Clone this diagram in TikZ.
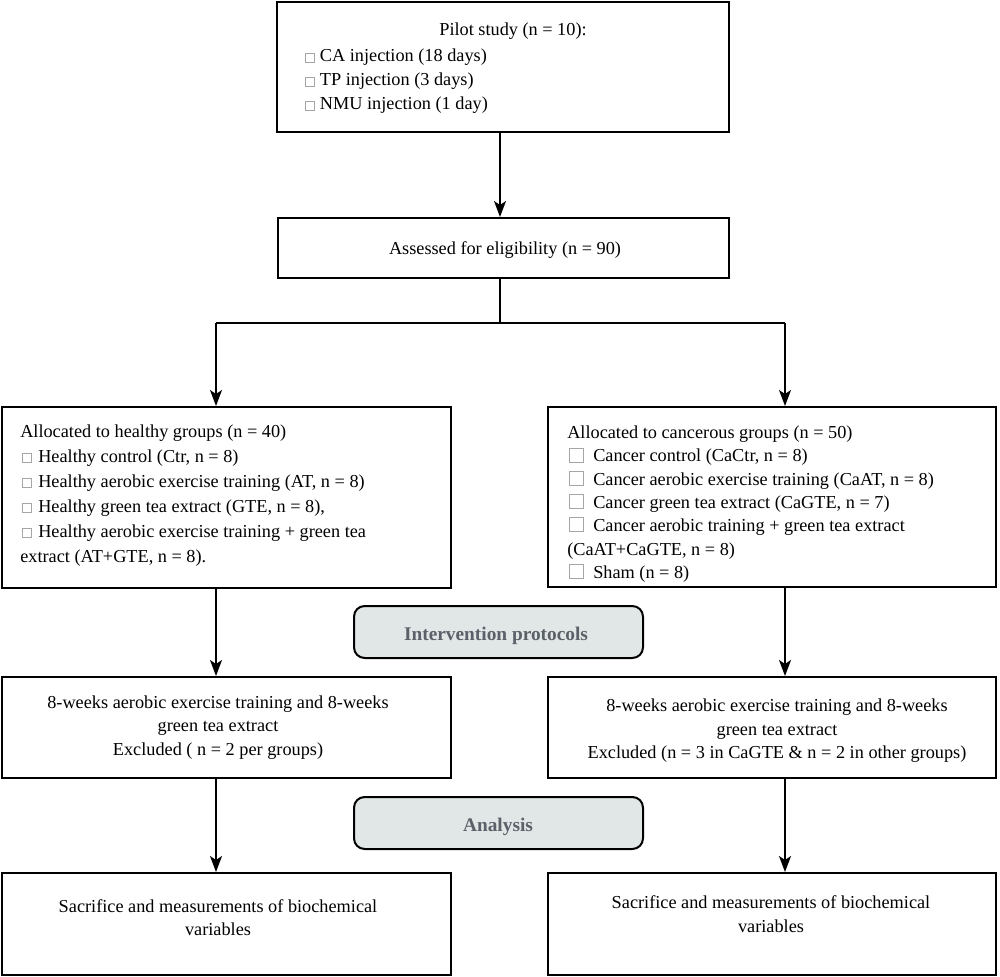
\documentclass[tikz,border=0pt]{standalone}
\usepackage{fontspec}
\setmainfont{Liberation Serif}
\usetikzlibrary{arrows.meta}
\definecolor{pillfill}{HTML}{E1E6E6}
\definecolor{pilltext}{HTML}{5B6169}
\newcommand{\cbx}[1]{{\setlength{\fboxsep}{0pt}\setlength{\fboxrule}{0.5pt}\fcolorbox{gray!70}{white}{\rule{0pt}{#1}\rule{#1}{0pt}}}}
\begin{document}
\begin{tikzpicture}[x=0.75pt,y=-0.75pt,
  box/.style={draw, line width=1.5pt, inner sep=0pt},
  pill/.style={draw, line width=1.5pt, fill=pillfill, rounded corners=8pt, inner sep=0pt, minimum width=216.75pt, minimum height=39pt},
  lbl/.style={inner sep=0pt, font=\fontsize{13.7}{16}\selectfont},
  plbl/.style={inner sep=0pt, font=\fontsize{14.5}{17}\selectfont\bfseries, text=pilltext},
  arr/.style={line width=1.1pt, -{Stealth[length=12pt,width=9pt,inset=3pt]}},
  ln/.style={line width=1.1pt}]
\useasboundingbox (0,0) rectangle (1000,977);
% boxes
\node[box, minimum width=339pt, minimum height=97.5pt] (pilot) at (503,67) {};
\node[box, minimum width=338.25pt, minimum height=45pt] (assess) at (503.5,248) {};
\node[box, minimum width=336.75pt, minimum height=135.75pt] (L1) at (226.5,497.5) {};
\node[box, minimum width=336pt, minimum height=135pt] (R1) at (772,497) {};
\node[pill] (int) at (498.5,632) {};
\node[box, minimum width=336.75pt, minimum height=75.75pt] (L2) at (226.5,727.5) {};
\node[box, minimum width=336pt, minimum height=75.75pt] (R2) at (772,727.5) {};
\node[pill] (ana) at (498.5,823) {};
\node[box, minimum width=336.75pt, minimum height=76.5pt] (L3) at (226.5,924) {};
\node[box, minimum width=336pt, minimum height=76.5pt] (R3) at (772,924) {};
% texts
\node[lbl, anchor=base] (p0) at (513,36) {Pilot study (n = 10):};
\node[lbl, anchor=base west] (p1) at (305,62) {\cbx{6pt}\hspace{4pt}CA injection (18 days)};
\node[lbl, anchor=base west] (p2) at (305,86) {\cbx{6pt}\hspace{4pt}TP injection (3 days)};
\node[lbl, anchor=base west] (p3) at (305,110) {\cbx{6pt}\hspace{4pt}NMU injection (1 day)};
\node[lbl, anchor=base] (a0) at (505,254) {Assessed for eligibility (n = 90)};
\node[lbl, anchor=base west] (l0) at (20,437) {Allocated to healthy groups (n = 40)};
\node[lbl, anchor=base west] (l1) at (22,462) {\cbx{6pt}\hspace{5pt}Healthy control (Ctr, n = 8)};
\node[lbl, anchor=base west] (l2) at (22,487) {\cbx{6pt}\hspace{5pt}Healthy aerobic exercise training (AT, n = 8)};
\node[lbl, anchor=base west] (l3) at (22,512) {\cbx{6pt}\hspace{5pt}Healthy green tea extract (GTE, n = 8),};
\node[lbl, anchor=base west] (l4) at (22,537) {\cbx{6pt}\hspace{5pt}Healthy aerobic exercise training + green tea};
\node[lbl, anchor=base west] (l5) at (20,562) {extract (AT+GTE, n = 8).};
\node[lbl, anchor=base west] (r0) at (567,438) {Allocated to cancerous groups (n = 50)};
\node[lbl, anchor=base west] (r1) at (569,461.5) {\cbx{10pt}\hspace{7pt}Cancer control (CaCtr, n = 8)};
\node[lbl, anchor=base west] (r2) at (569,485) {\cbx{10pt}\hspace{7pt}Cancer aerobic exercise training (CaAT, n = 8)};
\node[lbl, anchor=base west] (r3) at (569,508) {\cbx{10pt}\hspace{7pt}Cancer green tea extract (CaGTE, n = 7)};
\node[lbl, anchor=base west] (r4) at (569,531) {\cbx{10pt}\hspace{7pt}Cancer aerobic training + green tea extract};
\node[lbl, anchor=base west] (r5) at (567,555) {(CaAT+CaGTE, n = 8)};
\node[lbl, anchor=base west] (r6) at (569,578) {\cbx{10pt}\hspace{7pt}Sham (n = 8)};
\node[plbl, anchor=base] (it) at (496,640) {Intervention protocols};
\node[plbl, anchor=base] (at) at (498,831) {Analysis};
\node[lbl, anchor=base] (e1) at (218,708) {8-weeks aerobic exercise training and 8-weeks};
\node[lbl, anchor=base] (e2) at (218,731) {green tea extract};
\node[lbl, anchor=base] (e3) at (218,755) {Excluded ( n = 2 per groups)};
\node[lbl, anchor=base] (f1) at (777,711) {8-weeks aerobic exercise training and 8-weeks};
\node[lbl, anchor=base] (f2) at (777,735) {green tea extract};
\node[lbl, anchor=base] (f3) at (777,758) {Excluded (n = 3 in CaGTE \& n = 2 in other groups)};
\node[lbl, anchor=base] (s1) at (218,912) {Sacrifice and measurements of biochemical};
\node[lbl, anchor=base] (s2) at (218,935) {variables};
\node[lbl, anchor=base] (t1) at (771,908) {Sacrifice and measurements of biochemical};
\node[lbl, anchor=base] (t2) at (771,932) {variables};
% connectors
\coordinate (sp) at (500,323);
\coordinate (jl) at (216,323);
\coordinate (jr) at (785,323);
\draw[arr] (pilot.south -| sp) -- (assess.north -| sp);
\draw[ln] (assess.south -| sp) -- (sp);
\draw[ln] (jl) -- (jr);
\draw[arr] (jl) -- (L1.north -| jl);
\draw[arr] (jr) -- (R1.north -| jr);
\draw[arr] (L1.south -| jl) -- (L2.north -| jl);
\draw[arr] (R1.south -| jr) -- (R2.north -| jr);
\draw[arr] (L2.south -| jl) -- (L3.north -| jl);
\draw[arr] (R2.south -| jr) -- (R3.north -| jr);
\end{tikzpicture}
\end{document}
